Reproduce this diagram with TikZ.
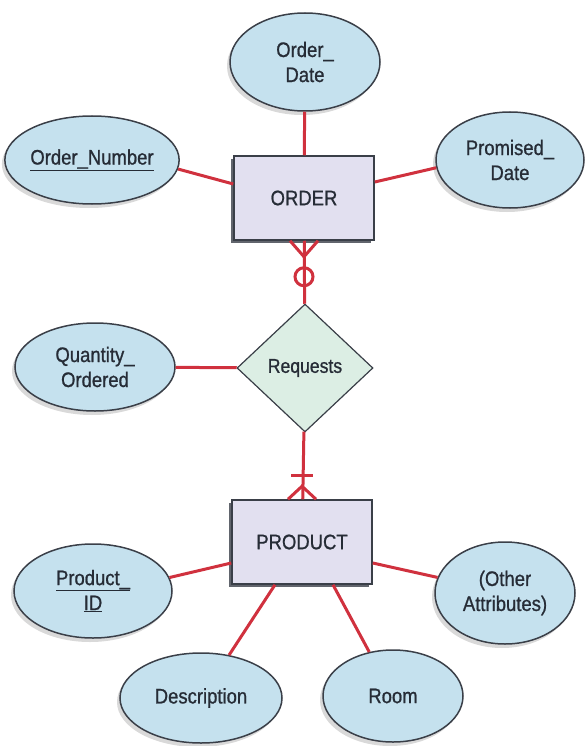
\documentclass[tikz,border=0pt]{standalone}
\usepackage{fontspec}
\setmainfont{Liberation Sans}[FakeStretch=0.88,FakeBold=0.9]
\usetikzlibrary{shapes.geometric,shadows}

\definecolor{attrblue}{RGB}{197,225,238}
\definecolor{entlilac}{RGB}{226,224,240}
\definecolor{relmint}{RGB}{220,238,228}
\definecolor{linkred}{RGB}{208,49,62}
\definecolor{edgegray}{RGB}{58,63,72}
\definecolor{inkgray}{RGB}{38,44,54}

\tikzset{
  attr/.style={ellipse, draw=edgegray, line width=1.5pt, fill=attrblue,
    inner sep=0pt, align=center, text=inkgray,
    font=\fontsize{21}{25}\selectfont,
    drop shadow={shadow xshift=-3pt, shadow yshift=-4pt, opacity=0.3}},
  entity/.style={rectangle, draw=edgegray, line width=1.5pt, fill=entlilac,
    minimum width=140pt, minimum height=84pt, text=inkgray,
    font=\fontsize{21}{25}\selectfont,
    drop shadow={shadow xshift=-3pt, shadow yshift=-3pt, fill=edgegray, opacity=0.8}},
  relship/.style={diamond, draw=edgegray, line width=1.2pt, fill=relmint,
    minimum width=136pt, minimum height=128pt, inner sep=0pt, text=inkgray,
    font=\fontsize{20}{24}\selectfont},
  link/.style={draw=linkred, line width=3pt},
}

\begin{document}
\begin{tikzpicture}[x=1pt,y=-1pt]
  \useasboundingbox (0,0) rectangle (586,746);

  % entities and the relationship
  \node[entity] (order) at (304,198) {ORDER};
  \node[relship] (requests) at (305,368) {Requests};
  \node[entity] (product) at (302,542) {PRODUCT};

  % attributes
  \node[attr, minimum width=150pt, minimum height=98pt] (odate) at (305,62) {Order\_\\Date};
  \node[attr, minimum width=160pt, minimum height=88pt] (onum) at (92,160) {\underline{Order\_Number}};
  \node[attr, minimum width=148pt, minimum height=96pt] (pdate) at (510,160) {Promised\_\\Date};
  \node[attr, minimum width=160pt, minimum height=88pt] (qty) at (95,367) {Quantity\_\\Ordered};
  \node[attr, minimum width=158pt, minimum height=94pt] (pid) at (93,591) {\underline{Product\_}\\\underline{ID}};
  \node[attr, minimum width=140pt, minimum height=102pt] (other) at (505,593) {(Other\\Attributes)};
  \node[attr, minimum width=162pt, minimum height=90pt] (desc) at (201,698) {Description};
  \node[attr, minimum width=140pt, minimum height=92pt] (room) at (393,696) {Room};

  % connectors
  \draw[link] (odate) -- (order);
  \draw[link] (onum.-6) -- ([yshift=14pt]order.west);
  \draw[link] (pdate.186) -- ([yshift=16pt]order.east);
  \draw[link] (qty) -- (requests);
  \draw[link] (requests) -- (order);
  \draw[link] (requests) -- (product);
  \draw[link] (pid.10) -- ([yshift=-21pt]product.west);
  \draw[link] (other.167) -- ([yshift=-21pt]product.east);
  \draw[link] ([xshift=-27pt]product.south) -- (desc);
  \draw[link] ([xshift=31pt]product.south) -- (room);

  % many, optional (ORDER side)
  \draw[link] ([xshift=-14pt]order.south) -- ([yshift=-16pt]order.south) -- ([xshift=14pt]order.south);
  \draw[link] ([yshift=-36pt]order.south) circle (9pt);
  % many, mandatory (PRODUCT side)
  \draw[link] ([xshift=-14pt]product.north) -- ([yshift=13pt]product.north) -- ([xshift=14pt]product.north);
  \draw[link] ([xshift=-11pt,yshift=24pt]product.north) -- ([xshift=11pt,yshift=24pt]product.north);
\end{tikzpicture}
\end{document}
